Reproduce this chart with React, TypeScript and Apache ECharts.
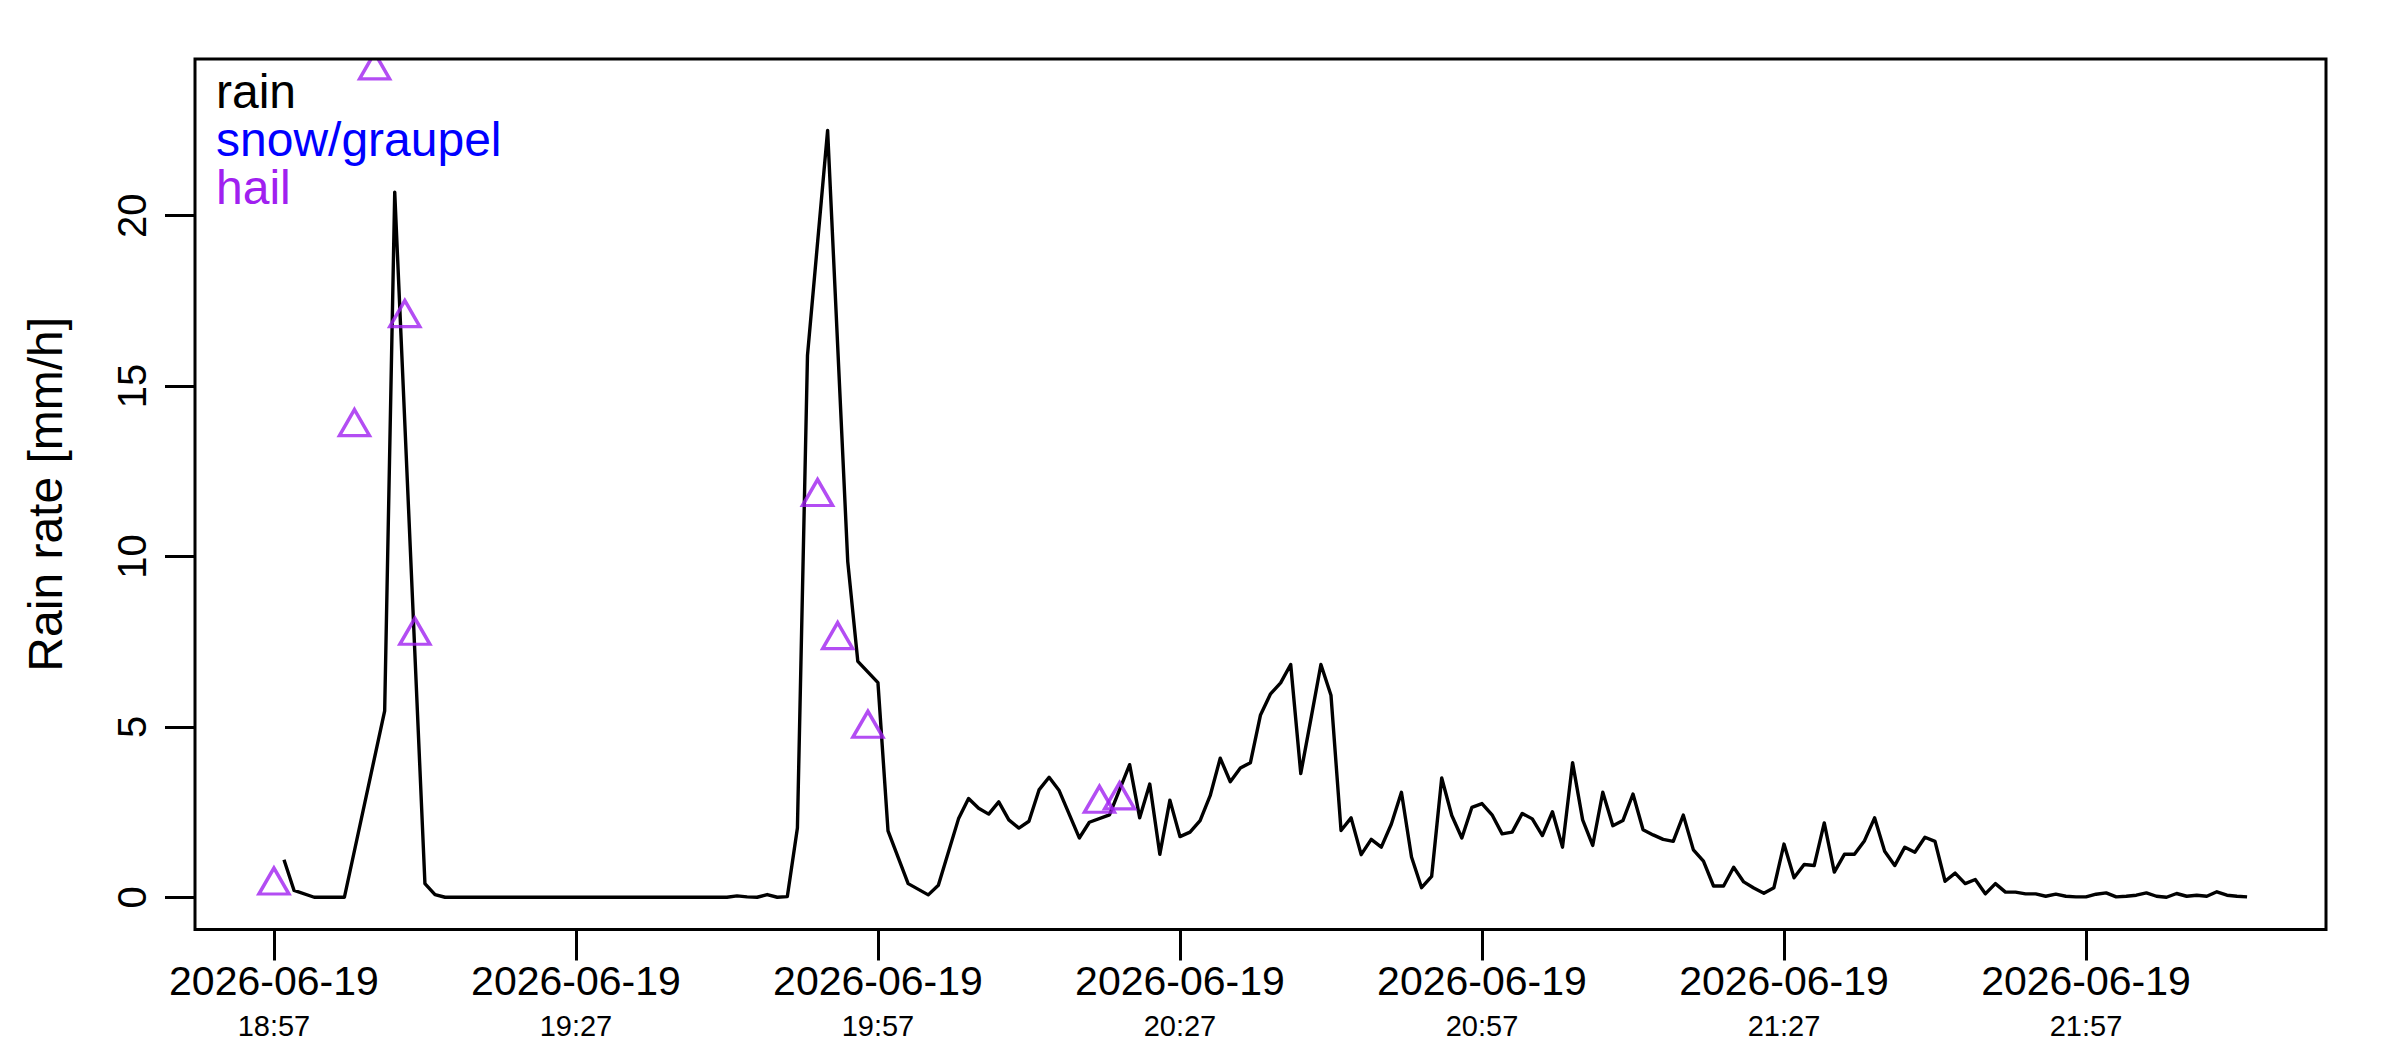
import React, { useEffect, useRef } from "react";
import * as echarts from "echarts";

// ---------- data ----------
const DATE_LABEL = "2026-06-19";
const START_HOUR = 18;
const START_MINUTE = 57;

// rain rate [mm/h], one entry per minute from the start; null = no rain record
const rainValues: (number | null)[] = [
  null, 1.1, 0.2, null, 0, 0, 0, 0, null, null,
  null, 5.47, 20.69, null, null, 0.4, 0.08, 0, 0, 0,
  0, 0, 0, 0, 0, 0, 0, 0, 0, 0,
  0, 0, 0, 0, 0, 0, 0, 0, 0, 0,
  0, 0, 0, 0, 0, 0, 0.04, 0.01, 0, 0.08,
  0, 0.02, 2.03, 15.9, null, 22.5, null, 9.85, 6.92, null,
  6.3, 1.95, null, 0.4, null, 0.07, 0.35, null, 2.3, 2.9,
  2.61, 2.44, 2.8, 2.27, 2.03, 2.23, 3.15, 3.52, 3.13, null,
  1.74, 2.2, null, 2.42, null, 3.89, 2.33, 3.32, 1.26, 2.85,
  1.78, 1.91, 2.25, 2.98, 4.08, 3.39, 3.79, 3.95, 5.35, 5.97,
  6.29, 6.83, 3.63, 5.22, 6.83, 5.93, 1.96, 2.33, 1.25, 1.7,
  1.47, 2.15, 3.08, 1.18, 0.28, 0.61, 3.5, 2.4, 1.74, 2.64,
  2.75, 2.42, 1.86, 1.91, 2.46, 2.3, 1.81, 2.51, 1.47, 3.95,
  2.27, 1.52, 3.08, 2.1, 2.25, 3.03, 1.98, 1.83, 1.7, 1.64,
  2.41, 1.39, 1.06, 0.33, 0.33, 0.88, 0.45, 0.27, 0.12, 0.28,
  1.56, 0.57, 0.96, 0.93, 2.18, 0.74, 1.26, 1.26, 1.66, 2.33,
  1.35, 0.93, 1.47, 1.32, 1.76, 1.64, 0.47, 0.71, 0.4, 0.52,
  0.1, 0.4, 0.15, 0.15, 0.1, 0.1, 0.03, 0.09, 0.03, 0.01,
  0.01, 0.09, 0.13, 0.01, 0.03, 0.06, 0.13, 0.03, 0.0, 0.11,
  0.03, 0.06, 0.03, 0.16, 0.06, 0.03, 0.01,
];

const hailMinutes = [0, 8, 10, 13, 14, 54, 56, 59, 82, 84];
const hailValues = [0.35, 13.8, 24.27, 17.0, 7.68, 11.75, 7.55, 4.95, 2.75, 2.85];

const snowMinutes: number[] = [];
const snowValues: number[] = [];

const tickMinutes = [0, 30, 60, 90, 120, 150, 180];
const yTickValues = [0, 5, 10, 15, 20];

const legendLabels = ["rain", "snow/graupel", "hail"];
const legendColors = ["#000000", "#0000FF", "#A020F0"];

const Y_LABEL = "Rain rate [mm/h]";

// ---------- layout ----------
const W = 2400;
const H = 1050;
const LEFT = 195;
const TOP = 59;
const PW = 2131;
const PH = 870.5;
const FONT = '"Liberation Sans", Arial, Helvetica, sans-serif';
const LW = 3;
const DATA_LW = 3.4;

const pad = (n: number) => (n < 10 ? "0" + n : "" + n);
const clock = (minutes: number) => {
  const total = START_HOUR * 60 + START_MINUTE + Math.round(minutes);
  return pad(Math.floor(total / 60) % 24) + ":" + pad(total % 60);
};

export default function App() {
  const ref = useRef<HTMLDivElement>(null);

  useEffect(() => {
    if (!ref.current) return;
    const chart = echarts.init(ref.current, undefined, { renderer: "svg", width: W, height: H });

    const rainData = rainValues
      .map((v, i) => (v == null ? null : [i, v]))
      .filter((d) => d !== null);
    const hailData = hailMinutes.map((m, i) => [m, hailValues[i]]);
    const snowData = snowMinutes.map((m, i) => [m, snowValues[i]]);

    const spanMin = rainValues.length - 1;
    const xMin = -0.04 * spanMin;
    const xMax = 1.04 * spanMin;
    const yTop = 23.65;
    const yMin = -0.04 * yTop;
    const yMax = 1.04 * yTop;

    const legendBaselines = [108, 156, 204];

    const option: any = {
      animation: false,
      backgroundColor: "#ffffff",
      grid: {
        left: LEFT,
        top: TOP,
        width: PW,
        height: PH,
        show: false,
        containLabel: false,
        outerBoundsMode: "none",
      },
      xAxis: {
        type: "value",
        min: xMin,
        max: xMax,
        axisLine: { show: false, onZero: false },
        splitLine: { show: false },
        minorTick: { show: false },
        axisTick: {
          show: true,
          inside: false,
          length: 31,
          customValues: tickMinutes,
          lineStyle: { color: "#000", width: LW },
        },
        axisLabel: {
          show: true,
          customValues: tickMinutes,
          margin: 29,
          hideOverlap: false,
          color: "#000",
          fontFamily: FONT,
          formatter: (val: number) => "{a|" + DATE_LABEL + "}\n{b|" + clock(val) + "}",
          rich: {
            a: { fontSize: 41, lineHeight: 44, fontFamily: FONT, color: "#000" },
            b: { fontSize: 29, lineHeight: 46, fontFamily: FONT, color: "#000" },
          },
        },
      },
      yAxis: {
        type: "value",
        min: yMin,
        max: yMax,
        axisLine: { show: false, onZero: false },
        splitLine: { show: false },
        axisTick: {
          show: true,
          inside: false,
          length: 30,
          customValues: yTickValues,
          lineStyle: { color: "#000", width: LW },
        },
        axisLabel: {
          show: true,
          customValues: yTickValues,
          rotate: 90,
          margin: 43,
          fontSize: 40,
          fontFamily: FONT,
          color: "#000",
          formatter: (v: number) => String(v),
        },
        name: Y_LABEL,
        nameLocation: "middle",
        nameRotate: 90,
        nameGap: 126,
        nameTextStyle: { fontSize: 48, fontFamily: FONT, color: "#000" },
      },
      series: [
        {
          name: "rain",
          type: "line",
          data: rainData,
          symbol: "none",
          showSymbol: false,
          connectNulls: true,
          clip: true,
          silent: true,
          lineStyle: { color: "#000", width: DATA_LW, join: "round" },
          z: 3,
        },
        {
          name: "snow/graupel",
          type: "scatter",
          data: snowData,
          symbol: "triangle",
          symbolSize: [30, 26],
          symbolOffset: [0, -4.3],
          silent: true,
          itemStyle: { color: "rgba(0,0,0,0)", borderColor: "#0000FF", borderWidth: DATA_LW },
          z: 4,
        },
        {
          name: "hail",
          type: "scatter",
          data: hailData,
          symbol: "triangle",
          symbolSize: [30, 26],
          symbolOffset: [0, -4.3],
          silent: true,
          itemStyle: { color: "rgba(0,0,0,0)", borderColor: "#A020F0", borderWidth: DATA_LW },
          z: 4,
        },
      ],
      graphic: [
        {
          type: "rect",
          silent: true,
          z: 50,
          shape: { x: 0, y: 0, width: W, height: TOP },
          style: { fill: "#ffffff" },
        },
        {
          type: "rect",
          silent: true,
          z: 51,
          shape: { x: LEFT, y: TOP, width: PW, height: PH },
          style: { fill: "none", stroke: "#000", lineWidth: LW },
        },
        ...legendLabels.map((t, i) => ({
          type: "text",
          silent: true,
          z: 52,
          x: 216,
          y: legendBaselines[i] - 0.3465 * 48,
          style: {
            text: t,
            fill: legendColors[i],
            fontSize: 48,
            fontFamily: FONT,
            align: "left",
            verticalAlign: "middle",
          },
        })),
      ],
    };

    chart.setOption(option);
    return () => {
      chart.dispose();
    };
  }, []);

  return (
    <div
      ref={ref}
      style={{ position: "fixed", left: 0, top: 0, width: W, height: H, background: "#fff" }}
    />
  );
}
